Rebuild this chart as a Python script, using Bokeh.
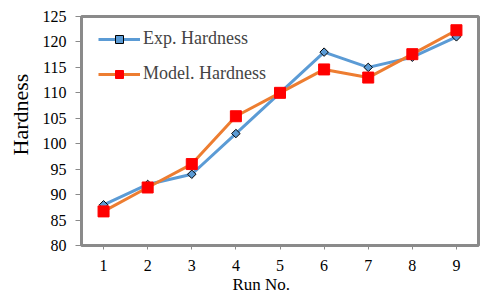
from bokeh.plotting import figure
from bokeh.models import Range1d, FixedTicker, Title, Legend, LegendItem
from bokeh.embed import file_html
from bokeh.resources import INLINE
import numpy as np

runs = [1, 2, 3, 4, 5, 6, 7, 8, 9]
exp_hardness = [88, 92, 94, 102, 110, 118, 115, 117, 121]
model_hardness = [86.7, 91.4, 96.0, 105.4, 110.0, 114.6, 113.0, 117.6, 122.3]
y_ticks = [80, 85, 90, 95, 100, 105, 110, 115, 120, 125]

FONT = "Liberation Serif"
BLUE = "#5B9BD5"
ORANGE = "#ED7D31"
GRAY = "#8A8A8A"

p = figure(width=480, height=303, output_backend="svg", toolbar_location=None,
           x_range=Range1d(0.5, 9.5), y_range=Range1d(80, 125),
           min_border_left=81, min_border_right=2, min_border_top=16, min_border_bottom=58)

p.grid.visible = False
p.outline_line_color = GRAY
p.outline_line_width = 3
p.background_fill_color = "white"
p.border_fill_color = "white"

for ax in (p.xaxis[0], p.yaxis[0]):
    ax.axis_line_color = None
    ax.major_tick_line_color = GRAY
    ax.major_tick_line_width = 1
    ax.minor_tick_line_color = None
    ax.major_tick_in = 0
    ax.major_label_text_font = FONT
    ax.major_label_text_font_size = "16px"
    ax.major_label_text_color = "black"

p.xaxis.ticker = FixedTicker(ticks=runs)
p.yaxis.ticker = FixedTicker(ticks=y_ticks)
p.xaxis.major_tick_out = 4
p.yaxis.major_tick_out = 6
p.xaxis.major_label_standoff = 10
p.yaxis.major_label_standoff = 9

l1 = p.line(runs, exp_hardness, line_color=BLUE, line_width=3)
m1 = p.scatter(runs, exp_hardness, marker="square", angle=np.pi / 4, size=6,
               fill_color=BLUE, line_color="black", line_width=1)
l2 = p.line(runs, model_hardness, line_color=ORANGE, line_width=3)
m2 = p.scatter(runs, model_hardness, marker="square", size=11,
               fill_color="#FF0000", line_color="#FF0000")

legend = Legend(items=[LegendItem(label="Exp. Hardness", renderers=[l1, m1]),
                       LegendItem(label="Model. Hardness", renderers=[l2, m2])],
                location=(17, 161), glyph_width=42, glyph_height=20, label_height=20,
                spacing=14, padding=0, margin=0, label_standoff=3,
                border_line_color=None, background_fill_alpha=0,
                label_text_font=FONT, label_text_font_size="18px")
p.add_layout(legend, "center")

p.add_layout(Title(text="Hardness", align="left", offset=90, vertical_align="middle",
                   standoff=12, text_font=FONT, text_font_size="22px",
                   text_font_style="normal", text_color="black"), "left")
p.add_layout(Title(text="Run No.", align="left", offset=151, vertical_align="top",
                   standoff=3, text_font=FONT, text_font_size="17px",
                   text_font_style="normal", text_color="black"), "below")

open("out.html", "w").write(file_html(p, INLINE))
